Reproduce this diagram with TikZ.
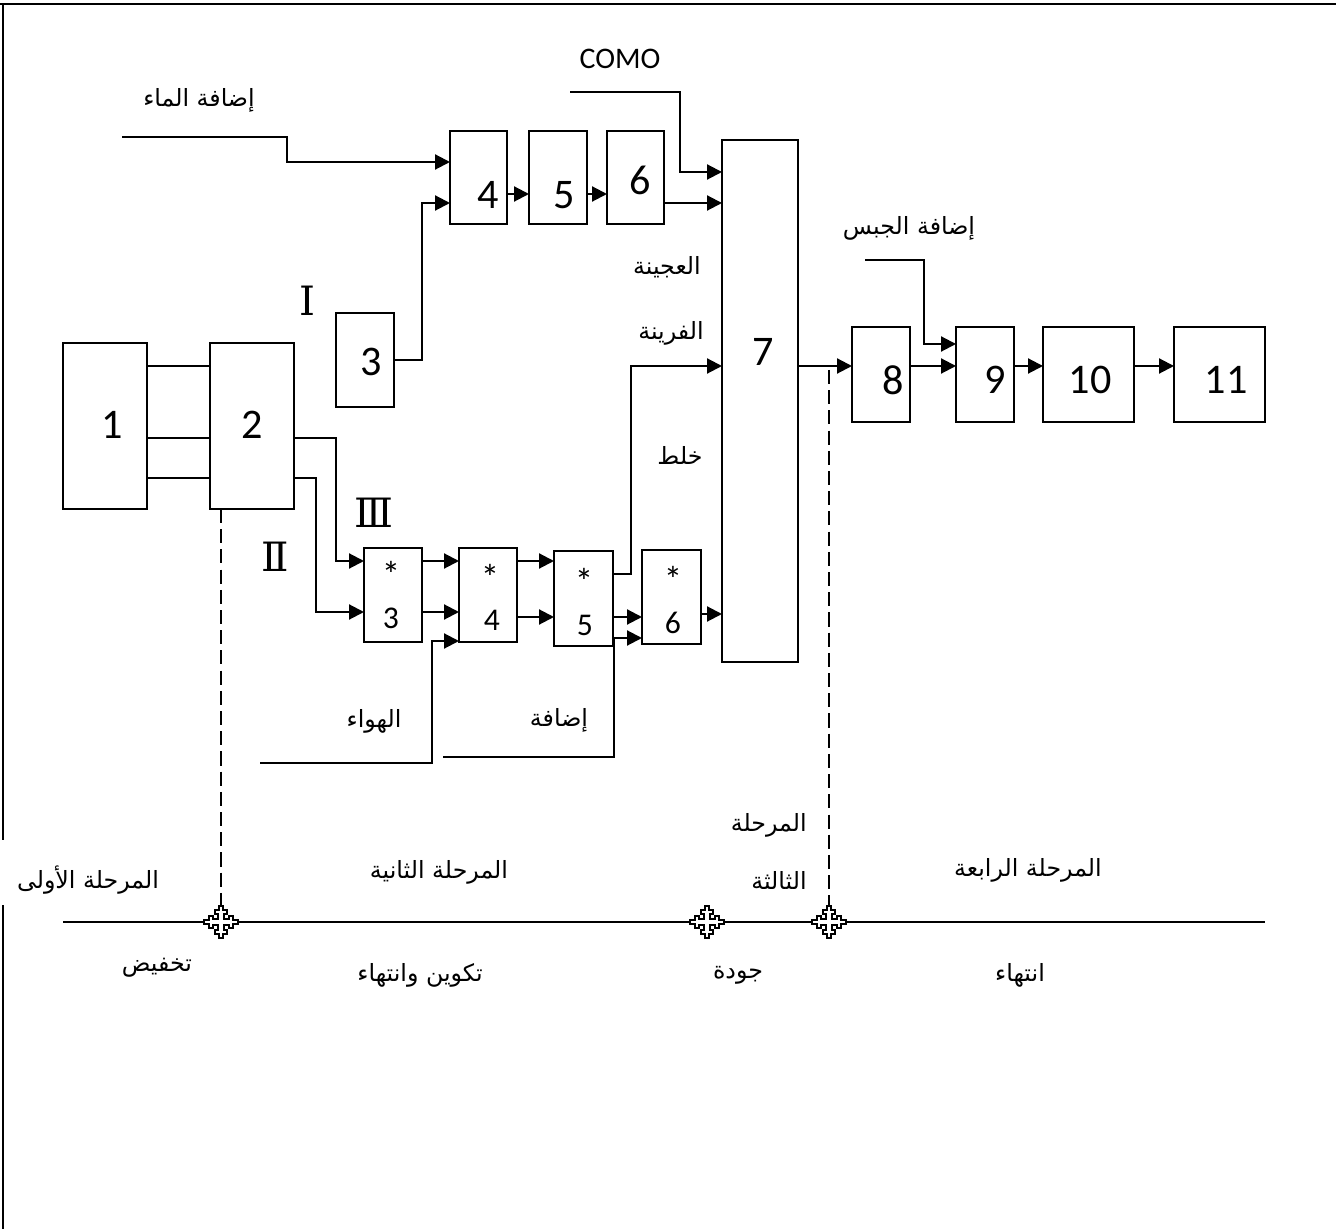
\documentclass[tikz,border=0pt]{standalone}
\usepackage{fontspec}
\setmainfont{Carlito}
\newfontfamily\arabicfont[Script=Arabic]{DejaVu Sans}
\newfontfamily\romanfont{DejaVu Serif}
\TeXXeTstate=1
\usetikzlibrary{arrows.meta}
\newcommand\artxt[1]{{\arabicfont\beginR #1\endR}}
\newcommand\mkbox[5]{\node[boxst, minimum width={(#4-#2)*0.02cm}, minimum height={(#5-#3)*0.02cm}] (#1) at ({(#2+#4)/2},{(#3+#5)/2}) {};}
\begin{document}
\begin{tikzpicture}[x=0.02cm,y=-0.02cm,
 boxst/.style={draw, line width=0.9pt, inner sep=0pt, outer sep=0pt, rectangle},
 big/.style={font=\fontsize{24}{28}\selectfont, inner sep=0pt},
 small/.style={font=\fontsize{18}{21}\selectfont, inner sep=0pt},
 star/.style={font=\fontsize{21}{24}\selectfont, inner sep=0pt},
 como/.style={font=\fontsize{17}{20}\selectfont, inner sep=0pt},
 artx/.style={font=\fontsize{13.5}{16}\selectfont, inner sep=0pt},
 roman/.style={font=\romanfont\fontsize{23}{26}\selectfont, inner sep=0pt},
 conn/.style={line width=1.2pt},
 arr/.style={conn, -{Triangle[length=8.5pt,width=8.5pt]}},
 dsh/.style={line width=1.3pt, dash pattern=on 8pt off 3.5pt},
 crossmark/.pic={\draw[fill=white, line width=1pt]
   (-2,16) -- (2,16) -- (2,12) -- (6,12) -- (6,8) -- (3,8) -- (3,3)
   -- (8,3) -- (8,6) -- (12,6) -- (12,2) -- (17,2) -- (17,-2) -- (12,-2) -- (12,-6) -- (8,-6) -- (8,-3) -- (3,-3)
   -- (3,-8) -- (6,-8) -- (6,-12) -- (2,-12) -- (2,-16) -- (-2,-16) -- (-2,-12) -- (-6,-12) -- (-6,-8) -- (-3,-8) -- (-3,-3)
   -- (-8,-3) -- (-8,-6) -- (-12,-6) -- (-12,-2) -- (-17,-2) -- (-17,2) -- (-12,2) -- (-12,6) -- (-8,6) -- (-8,3) -- (-3,3)
   -- (-3,8) -- (-6,8) -- (-6,12) -- (-2,12) -- cycle;}
]
\useasboundingbox (0,0) rectangle (1336,1229);
% frame
\draw[line width=1.2pt] (0,4) -- (1336,4);
\draw[line width=1pt] (3,4) -- (3,840);
\draw[line width=1pt] (3,905) -- (3,1229);

% boxes
\mkbox{b1}{63}{343}{147}{509}
\mkbox{b2}{210}{343}{294}{509}
\mkbox{b3}{336}{313}{394}{407}
\mkbox{b4}{450}{131}{507}{224}
\mkbox{b5}{529}{131}{587}{224}
\mkbox{b6}{607}{131}{664}{224}
\mkbox{b7}{722}{140}{798}{662}
\mkbox{b8}{852}{327}{910}{422}
\mkbox{b9}{956}{327}{1014}{422}
\mkbox{b10}{1043}{327}{1134}{422}
\mkbox{b11}{1174}{327}{1265}{422}
\mkbox{s3}{364}{548}{422}{642}
\mkbox{s4}{459}{548}{517}{642}
\mkbox{s5}{554}{551}{613}{646}
\mkbox{s6}{642}{550}{701}{644}

% box labels
\node[big] (t1) at (112,425) {1};
\node[big] (t2) at (252,425) {2};
\node[big] (t3) at (371,362) {3};
\node[big] (t4) at (488,195) {4};
\node[big] (t5) at (564,195) {5};
\node[big] (t6) at (640,180) {6};
\node[big] (t7) at (763,352) {7};
\node[big] (t8) at (893,380) {8};
\node[big] (t9) at (995,380) {9};
\node[big] (t10) at (1090,380) {10};
\node[big] (t11) at (1226,380) {11};
\node[star] (a3) at (391,574) {*};
\node[small] (n3) at (391,618) {3};
\node[star] (a4) at (490,577) {*};
\node[small] (n4) at (492,620) {4};
\node[star] (a5) at (584,581) {*};
\node[small] (n5) at (585,625) {5};
\node[star] (a6) at (673,579) {*};
\node[small] (n6) at (673,623) {6};

% texts
\node[como] (como) at (620,59) {COMO};
\node[artx] (water) at (199,100) {\artxt{إضافة الماء}};
\node[artx] (dough) at (667,267) {\artxt{العجينة}};
\node[artx] (flour) at (671,333) {\artxt{الفرينة}};
\node[artx] (mix) at (680,455) {\artxt{خلط}};
\node[artx] (gyps) at (909,228) {\artxt{إضافة الجبس}};
\node[artx] (air) at (374,721) {\artxt{الهواء}};
\node[artx] (add) at (559,720) {\artxt{إضافة}};
\node[artx] (ph1) at (88,880) {\artxt{المرحلة الأولى}};
\node[artx] (ph2) at (439,872) {\artxt{المرحلة الثانية}};
\node[artx, anchor=east] (ph3a) at (807,825) {\artxt{المرحلة}};
\node[artx, anchor=east] (ph3b) at (807,880) {\artxt{الثالثة}};
\node[artx] (ph4) at (1028,870) {\artxt{المرحلة الرابعة}};
\node[artx] (red) at (157,968) {\artxt{تخفيض}};
\node[artx] (form) at (420,975) {\artxt{تكوين وانتهاء}};
\node[artx] (qual) at (738,975) {\artxt{جودة}};
\node[artx] (fin) at (1020,975) {\artxt{انتهاء}};
\node[roman] (r1) at (307,301) {Ⅰ};
\node[roman] (r2) at (275,557) {Ⅱ};
\node[roman] (r3) at (374,513) {Ⅲ};

% coordinates
\coordinate (wst) at (122,137);
\coordinate (cst) at (570,92);
\coordinate (gst) at (865,260);
\coordinate (ast) at (260,763);
\coordinate (dst) at (443,757);
\coordinate (c1) at (221,922);
\coordinate (c2) at (707,922);
\coordinate (c3) at (829,922);
\coordinate (tl0) at (63,922);
\coordinate (tl1) at (1265,922);

% connectors top
\draw[arr] (wst) -- (287,137) -- (287,162) -- (b4.west |- 0,162);
\draw[arr] (b3.east) -- (422,360) -- (422,203) -- (b4.west |- 0,203);
\draw[arr] (b4.east |- 0,194) -- (b5.west |- 0,194);
\draw[arr] (b5.east |- 0,194) -- (b6.west |- 0,194);
\draw[arr] (cst) -- (680,92) -- (680,172) -- (b7.west |- 0,172);
\draw[arr] (b6.east |- 0,203) -- (b7.west |- 0,203);
% 1-2
\draw[conn] (b1.east |- 0,366) -- (b2.west |- 0,366);
\draw[conn] (b1.east |- 0,438) -- (b2.west |- 0,438);
\draw[conn] (b1.east |- 0,478) -- (b2.west |- 0,478);
% lower chain
\draw[arr] (b2.east |- 0,438) -- (336,438) -- (336,561) -- (s3.west |- 0,561);
\draw[arr] (b2.east |- 0,478) -- (316,478) -- (316,612) -- (s3.west |- 0,612);
\draw[arr] (s3.east |- 0,561) -- (s4.west |- 0,561);
\draw[arr] (s3.east |- 0,612) -- (s4.west |- 0,612);
\draw[arr] (s4.east |- 0,561) -- (s5.west |- 0,561);
\draw[arr] (s4.east |- 0,617) -- (s5.west |- 0,617);
\draw[arr] (ast) -- (432,763) -- (432,641) -- (s4.west |- 0,641);
\draw[arr] (dst) -- (614,757) -- (614,638) -- (s6.west |- 0,638);
\draw[arr] (s5.east |- 0,617) -- (s6.west |- 0,617);
\draw[arr] (s5.east |- 0,574) -- (631,574) -- (631,366) -- (b7.west |- 0,366);
\draw[arr] (s6.east |- 0,614) -- (b7.west |- 0,614);
% right chain
\draw[arr] (b7.east |- 0,366) -- (b8.west |- 0,366);
\draw[arr] (gst) -- (924,260) -- (924,344) -- (b9.west |- 0,344);
\draw[arr] (b8.east |- 0,366) -- (b9.west |- 0,366);
\draw[arr] (b9.east |- 0,366) -- (b10.west |- 0,366);
\draw[arr] (b10.east |- 0,366) -- (b11.west |- 0,366);

% timeline
\draw[dsh] (b2.south -| c1) -- (c1);
\draw[dsh] (829,370) -- (c3);
\draw[conn] (tl0) -- (tl1);
\pic at (c1) {crossmark};
\pic at (c2) {crossmark};
\pic at (c3) {crossmark};
\end{tikzpicture}
\end{document}
